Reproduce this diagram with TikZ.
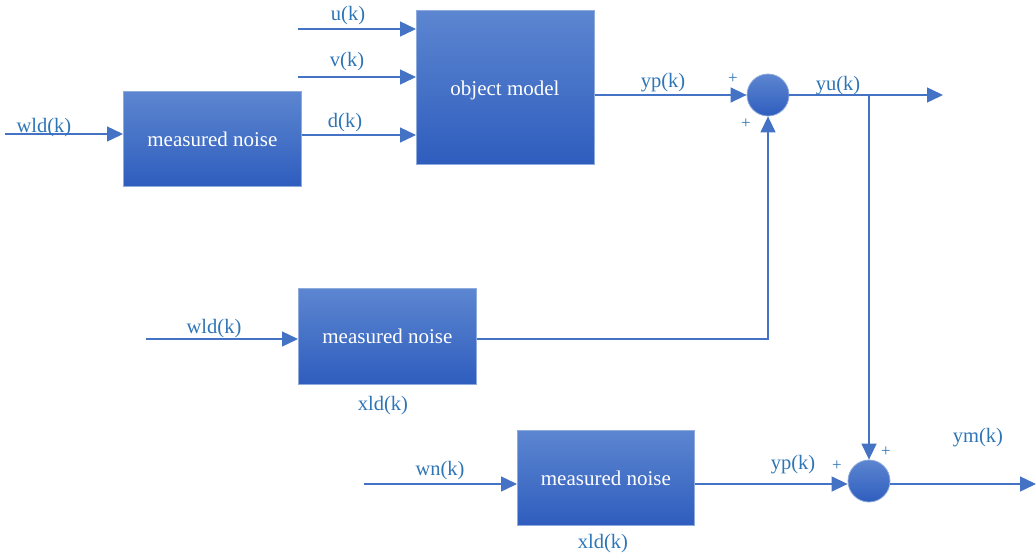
\documentclass[tikz,border=0pt]{standalone}
\usepackage{fontspec}
\setmainfont{Liberation Serif}
\usetikzlibrary{arrows.meta}
\definecolor{lineblue}{HTML}{4472C4}
\definecolor{txtblue}{HTML}{2E75B6}
\definecolor{boxtop}{RGB}{92,134,208}
\definecolor{boxbot}{RGB}{47,93,190}
\definecolor{boxedge}{HTML}{8FAADC}
\tikzset{
  blk/.style={draw=boxedge, line width=0.8pt, top color=boxtop, bottom color=boxbot,
    text=white, font=\fontsize{21}{25}\selectfont, inner sep=0pt, anchor=north west},
  sumnode/.style={circle, draw=boxedge, line width=0.8pt, top color=boxtop, bottom color=boxbot,
    minimum size=42pt, inner sep=0pt},
  lbl/.style={text=txtblue, font=\fontsize{20.5}{24}\selectfont, inner sep=0pt},
  pls/.style={text=txtblue, font=\fontsize{17}{20}\selectfont, inner sep=0pt},
  sig/.style={draw=lineblue, line width=1.4pt},
  arr/.style={sig, -{Triangle[length=16pt,width=15pt]}}
}
\begin{document}
\begin{tikzpicture}[x=1pt,y=-1pt]
\useasboundingbox (0,0) rectangle (1036,555);
% blocks
\node[blk, minimum width=178pt, minimum height=95pt] (b1) at (123,91) {measured noise};
\node[blk, minimum width=178pt, minimum height=154pt] (om) at (416,10) {};
\node[text=white, font=\fontsize{21}{25}\selectfont] (omt) at (505,90) {object model};
\node[blk, minimum width=178pt, minimum height=96pt] (b2) at (298,288) {measured noise};
\node[blk, minimum width=177pt, minimum height=95pt] (b3) at (517,430) {measured noise};
\node[sumnode] (s1) at (768,95) {};
\node[sumnode] (s2) at (869,481) {};
% free ends
\coordinate (in1) at (5,134);
\coordinate (inu) at (298,29);
\coordinate (inv) at (298,77);
\coordinate (in2) at (146,339);
\coordinate (in3) at (364,484);
\coordinate (out1) at (943,95);
\coordinate (jn) at (869,95);
\coordinate (out2) at (1036,484);
% connectors
\draw[arr] (in1) -- (b1.west |- in1);
\draw[arr] (inu) -- (om.west |- inu);
\draw[arr] (inv) -- (om.west |- inv);
\draw[arr] (b1.east |- 0,135) -- (om.west |- 0,135);
\draw[arr] (om.east |- s1) -- (s1.west);
\draw[arr] (s1.east) -- (out1);
\draw[arr] (jn) -- (s2.north);
\draw[arr] (in2) -- (b2.west |- in2);
\draw[arr] (b2.east |- in2) -| (s1.south);
\draw[arr] (in3) -- (b3.west |- in3);
\draw[arr] (b3.east |- in3) -- (s2.west |- in3);
\draw[arr] (s2.east |- in3) -- (out2);
% labels
\node[lbl] (lw1) at (44,128) {wld(k)};
\node[lbl] (lu) at (348,16) {u(k)};
\node[lbl] (lv) at (347,62) {v(k)};
\node[lbl] (ld) at (345,123) {d(k)};
\node[lbl] (lyp1) at (663,83) {yp(k)};
\node[lbl] (lyu) at (838,86) {yu(k)};
\node[lbl] (lw2) at (214,329) {wld(k)};
\node[lbl] (lx2) at (383,406) {xld(k)};
\node[lbl] (lwn) at (440,471) {wn(k)};
\node[lbl] (lyp2) at (793,465) {yp(k)};
\node[lbl] (lym) at (978,438) {ym(k)};
\node[lbl] (lx3) at (603,544) {xld(k)};
\node[pls] (p1) at (733,79) {+};
\node[pls] (p2) at (746,124) {+};
\node[pls] (p3) at (837,466) {+};
\node[pls] (p4) at (886,452) {+};
\end{tikzpicture}
\end{document}
